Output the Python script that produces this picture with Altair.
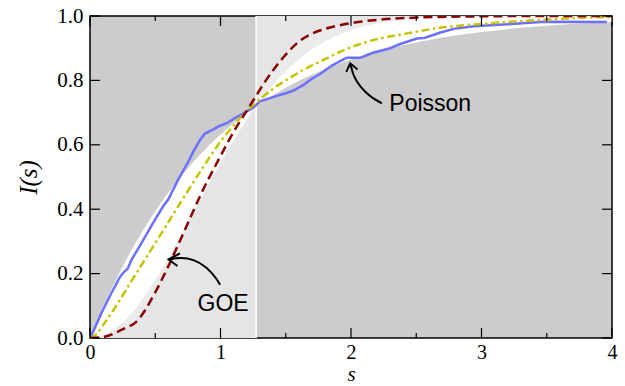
import altair as alt
import pandas as pd

# ---- spacing-distribution curves -------------------------------------------
# reference bands: Poisson and Wigner-surmise cumulative distributions
band_s = [0.0, 0.1, 0.2, 0.3, 0.4, 0.5, 0.6, 0.7, 0.8, 0.9, 1.0, 1.1, 1.2, 1.273,
          1.3, 1.4, 1.5, 1.6, 1.7, 1.8, 1.9, 2.0, 2.2, 2.4, 2.6, 2.8, 3.0, 3.2,
          3.4, 3.6, 3.8, 4.0]
band_poisson = [0.0, 0.0952, 0.1813, 0.2592, 0.3297, 0.3935, 0.4512, 0.5034,
                0.5507, 0.5934, 0.6321, 0.6671, 0.6988, 0.72, 0.7275, 0.7534,
                0.7769, 0.7981, 0.8173, 0.8347, 0.8504, 0.8647, 0.8892, 0.9093,
                0.9257, 0.9392, 0.9502, 0.9592, 0.9666, 0.9727, 0.9776, 0.9817]
band_goe = [0.0, 0.0078, 0.0309, 0.0683, 0.1181, 0.1783, 0.2462, 0.3193,
            0.3951, 0.4711, 0.5441, 0.6134, 0.6773, 0.72, 0.7348, 0.7855,
            0.8292, 0.8661, 0.8967, 0.9215, 0.9413, 0.9568, 0.9777, 0.9892,
            0.9951, 0.9979, 0.9991, 0.9997, 0.9999, 1.0, 1.0, 1.0]
crossing_s = [1.273]

# numerical data (blue)
data_s = [0.0, 0.025, 0.087, 0.163, 0.23, 0.26, 0.29, 0.317, 0.393, 0.496,
          0.562, 0.598, 0.675, 0.75, 0.8, 0.843, 0.88, 0.945, 1.0, 1.048,
          1.099, 1.176, 1.25, 1.303, 1.431, 1.5, 1.559, 1.636, 1.7, 1.763,
          1.85, 1.942, 1.968, 2.07, 2.12, 2.17, 2.3, 2.377, 2.43, 2.505, 2.56,
          2.63, 2.68, 2.786, 2.94, 3.2, 3.48, 3.96]
data_i = [0.0, 0.02, 0.077, 0.139, 0.19, 0.205, 0.216, 0.242, 0.294, 0.366,
          0.41, 0.429, 0.491, 0.545, 0.585, 0.615, 0.635, 0.648, 0.66, 0.667,
          0.68, 0.698, 0.715, 0.735, 0.752, 0.76, 0.768, 0.786, 0.805, 0.82,
          0.845, 0.865, 0.87, 0.87, 0.878, 0.886, 0.9, 0.913, 0.92, 0.93,
          0.932, 0.941, 0.948, 0.96, 0.968, 0.974, 0.982, 0.981]

# intermediate model (yellow dash-dot)
mid_s = [0.0, 0.05, 0.1, 0.18, 0.307, 0.434, 0.562, 0.69, 0.85, 1.0, 1.1,
         1.2, 1.3, 1.405, 1.5, 1.66, 1.8, 1.916, 2.17, 2.43, 2.71, 2.99, 3.45,
         3.93, 4.0]
mid_i = [0.0, 0.012, 0.04, 0.087, 0.17, 0.252, 0.335, 0.418, 0.52, 0.61,
         0.66, 0.705, 0.74, 0.775, 0.8, 0.838, 0.866, 0.889, 0.925, 0.946,
         0.965, 0.975, 0.988, 0.996, 0.996]

# GOE curve (red dashed)
goe_s = [0.0, 0.112, 0.24, 0.368, 0.496, 0.598, 0.726, 0.853, 1.0, 1.1, 1.2,
         1.273, 1.3, 1.4, 1.5, 1.6, 1.7, 1.8, 1.9, 2.0, 2.2, 2.5, 3.0, 3.5, 4.0]
goe_i = [0.0, 0.004, 0.025, 0.056, 0.139, 0.221, 0.335, 0.449, 0.565, 0.64,
         0.705, 0.752, 0.77, 0.83, 0.88, 0.92, 0.945, 0.96, 0.97, 0.978, 0.988,
         0.995, 0.999, 1.0, 1.0]

# ---- annotations -----------------------------------------------------------
goe_label = ["GOE"]
goe_label_s, goe_label_i = [1.02], [0.106]
goe_arrow_s = [0.997, 0.972, 0.897, 0.792, 0.69, 0.602]
goe_arrow_i = [0.165, 0.183, 0.2205, 0.245, 0.25, 0.2438]
goe_head_s = [0.69, 0.602, 0.67]
goe_head_i = [0.263, 0.2438, 0.2236]

poi_label = ["Poisson"]
poi_label_s, poi_label_i = [2.607], [0.727]
poi_arrow_s = [2.237, 2.147, 2.071, 2.019, 1.994]
poi_arrow_i = [0.7289, 0.7484, 0.7795, 0.8115, 0.853]
poi_head_s = [1.964, 1.994, 2.05]
poi_head_i = [0.8264, 0.853, 0.8339]

x_major = [0, 1, 2, 3, 4]
x_minor = [0.5, 1.5, 2.5, 3.5]
y_major = [0.0, 0.2, 0.4, 0.6, 0.8, 1.0]

W, H = 522, 322
SERIF = "Liberation Serif"
SANS = "Liberation Sans"

band = pd.DataFrame({"s": band_s, "poisson": band_poisson, "goe": band_goe})
band["lo"] = band[["poisson", "goe"]].min(axis=1)
band["hi"] = band[["poisson", "goe"]].max(axis=1)
cut = crossing_s[0]
left = band[band["s"] <= cut]
right = band[band["s"] >= cut]
goe = pd.DataFrame({"s": goe_s, "i": goe_i})
goe_left = goe[goe["s"] <= cut]
goe_right = goe[goe["s"] >= cut]

xs = alt.Scale(domain=[0, 4], nice=False, zero=False)
ys = alt.Scale(domain=[0, 1], nice=False, zero=False)
xa = alt.Axis(values=x_major, format="d", ticks=False, domain=False, grid=False,
              labelFlush=False, labelFont=SERIF, labelFontSize=20,
              labelColor="black", labelPadding=4, title="s", titleFont=SERIF,
              titleFontSize=21, titleFontStyle="italic",
              titleFontWeight="normal", titleColor="black", titlePadding=1)
ya = alt.Axis(values=y_major, format=".1f", ticks=False, domain=False,
              grid=False, labelFlush=False, labelFont=SERIF, labelFontSize=21,
              labelColor="black", labelPadding=7, title="I(s)",
              titleFont=SERIF, titleFontSize=25, titleFontStyle="italic",
              titleFontWeight="normal", titleColor="black", titlePadding=15)


def X(field):
    return alt.X(field, type="quantitative", scale=xs, axis=xa)


def Y(field):
    return alt.Y(field, type="quantitative", scale=ys, axis=ya)


# shaded regions: pale strip next to the surmise, grey outside, white band
left_strip = alt.Chart(left).mark_area(color="#ebebeb", interpolate="monotone").encode(
    x=X("s"), y=Y("goe"), y2=alt.datum(0))
right_strip = alt.Chart(right).mark_area(color="#ebebeb", interpolate="monotone").encode(
    x=X("s"), y=Y("goe"), y2=alt.datum(1))
left_fill = alt.Chart(goe_left).mark_area(color="#e5e5e5", interpolate="monotone").encode(
    x=X("s"), y=Y("i"), y2=alt.datum(0))
right_fill = alt.Chart(goe_right).mark_area(color="#e5e5e5", interpolate="monotone").encode(
    x=X("s"), y=Y("i"), y2=alt.datum(1))
white_band = alt.Chart(band).mark_area(color="white", interpolate="monotone").encode(
    x=X("s"), y=Y("lo"), y2="hi")
divider = alt.Chart(pd.DataFrame({"s": crossing_s})).mark_rule(
    color="white", strokeWidth=1.5).encode(x=X("s"))

blue = alt.Chart(pd.DataFrame({"s": data_s, "i": data_i})).mark_line(
    color="#6e6eff", strokeWidth=2.5).encode(x=X("s"), y=Y("i"))
yellow = alt.Chart(pd.DataFrame({"s": mid_s, "i": mid_i})).mark_line(
    color="#c4c400", strokeWidth=2.5, strokeDash=[8, 3.5, 2.5, 3.5],
    interpolate="monotone").encode(x=X("s"), y=Y("i"))
red = alt.Chart(goe).mark_line(
    color="#8b0000", strokeWidth=2.5, strokeDash=[9, 5],
    interpolate="monotone", clip=True).encode(x=X("s"), y=Y("i"))


def path(ss, ii, interp):
    df = pd.DataFrame({"s": ss, "i": ii, "k": range(len(ss))})
    return alt.Chart(df).mark_line(color="black", strokeWidth=2,
                                   interpolate=interp).encode(
        x=X("s"), y=Y("i"), order="k:Q")


arrows = [path(goe_arrow_s, goe_arrow_i, "basis"),
          path(goe_head_s, goe_head_i, "linear"),
          path(poi_arrow_s, poi_arrow_i, "basis"),
          path(poi_head_s, poi_head_i, "linear")]

labels = [
    alt.Chart(pd.DataFrame({"s": goe_label_s, "i": goe_label_i, "t": goe_label}))
    .mark_text(font=SANS, fontSize=23, color="black")
    .encode(x=X("s"), y=Y("i"), text="t:N"),
    alt.Chart(pd.DataFrame({"s": poi_label_s, "i": poi_label_i, "t": poi_label}))
    .mark_text(font=SANS, fontSize=23, color="black")
    .encode(x=X("s"), y=Y("i"), text="t:N"),
]

# inward tick marks on all four sides
tx = pd.DataFrame({"s": x_major})
txm = pd.DataFrame({"s": x_minor})
ty = pd.DataFrame({"i": y_major})
ticks = [
    alt.Chart(tx).mark_rule(color="black", strokeWidth=1.2).encode(
        x=X("s"), y=alt.value(H), y2=alt.value(H - 10)),
    alt.Chart(tx).mark_rule(color="black", strokeWidth=1.2).encode(
        x=X("s"), y=alt.value(0), y2=alt.value(10)),
    alt.Chart(txm).mark_rule(color="black", strokeWidth=1.2).encode(
        x=X("s"), y=alt.value(H), y2=alt.value(H - 5)),
    alt.Chart(txm).mark_rule(color="black", strokeWidth=1.2).encode(
        x=X("s"), y=alt.value(0), y2=alt.value(5)),
    alt.Chart(ty).mark_rule(color="black", strokeWidth=1.2).encode(
        y=Y("i"), x=alt.value(0), x2=alt.value(10)),
    alt.Chart(ty).mark_rule(color="black", strokeWidth=1.2).encode(
        y=Y("i"), x=alt.value(W), x2=alt.value(W - 10)),
]

chart = alt.layer(
    left_strip, right_strip, left_fill, right_fill, white_band, divider,
    blue, yellow, red, *arrows, *labels, *ticks,
).properties(
    width=W, height=H,
    padding={"left": 90, "top": 16, "right": 13, "bottom": 48},
    autosize=alt.AutoSizeParams(type="none"),
    background="white",
).configure_view(
    fill="#cccccc", stroke="black", strokeWidth=1.5,
)

chart.save("out.html", embed_options={"renderer": "svg", "actions": False})
